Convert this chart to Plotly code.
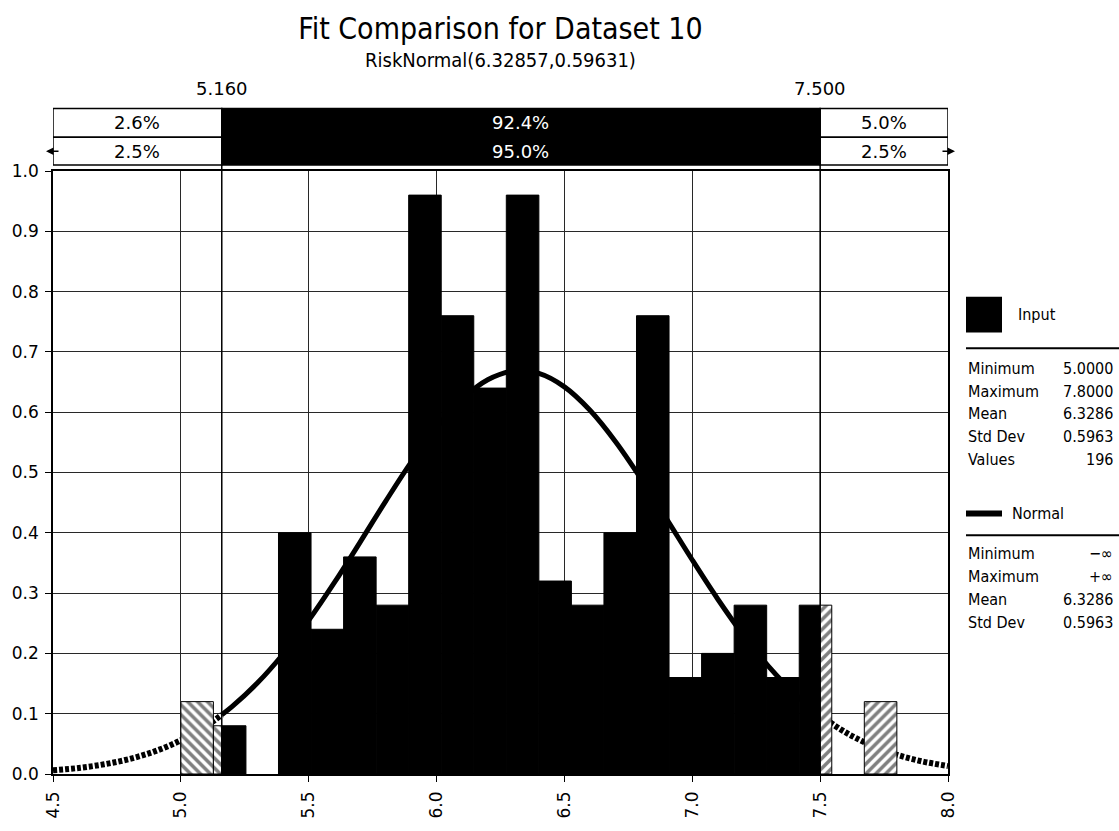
import plotly.graph_objects as go

# ---------------- data ----------------
bin_start = 5.0
bin_end = 7.8
bin_heights = [0.12, 0.08, 0.00, 0.40, 0.24, 0.36, 0.28, 0.96, 0.76, 0.64, 0.96,
               0.32, 0.28, 0.40, 0.76, 0.16, 0.20, 0.28, 0.16, 0.28, 0.00, 0.12]

curve_x = [4.5, 4.6, 4.7, 4.8, 4.9, 5.0, 5.1, 5.16, 5.2, 5.3, 5.4, 5.5, 5.6, 5.7,
           5.8, 5.9, 6.0, 6.1, 6.2, 6.3, 6.4, 6.5, 6.6, 6.7, 6.8, 6.9, 7.0, 7.1,
           7.2, 7.3, 7.4, 7.5, 7.6, 7.7, 7.8, 7.9, 8.0]
curve_y = [0.0061, 0.0100, 0.0161, 0.0250, 0.0379, 0.0559, 0.0801, 0.0981, 0.1116,
           0.1512, 0.1990, 0.2548, 0.3172, 0.3838, 0.4517, 0.5168, 0.5748, 0.6216,
           0.6537, 0.6683, 0.6643, 0.6420, 0.6032, 0.5511, 0.4895, 0.4227, 0.3549,
           0.2898, 0.2300, 0.1775, 0.1332, 0.0972, 0.0689, 0.0475, 0.0319, 0.0208,
           0.0132]

delimiters = [5.16, 7.5]
input_pct = ["2.6%", "92.4%", "5.0%"]
fit_pct = ["2.5%", "95.0%", "2.5%"]

title_text = "Fit Comparison for Dataset 10"
subtitle_text = "RiskNormal(6.32857,0.59631)"

input_stat_names = ["Minimum", "Maximum", "Mean", "Std Dev", "Values"]
input_stat_values = ["5.0000", "7.8000", "6.3286", "0.5963", "196"]
fit_stat_names = ["Minimum", "Maximum", "Mean", "Std Dev"]
fit_stat_values = ["\u2212\u221e", "+\u221e", "6.3286", "0.5963"]

x_range = [4.5, 8.0]
y_range = [0.0, 1.0]

# ---------------- layout geometry (pixels) ----------------
W, H = 1119, 831
L, R, T, B = 53, 948, 171, 780
FONT = "DejaVu Sans Condensed, DejaVu Sans, Verdana, sans-serif"
FONT_W = "DejaVu Sans, Verdana, sans-serif"


def px_x(px):
    return (px - L) / (R - L)


def px_y(py):
    return (B - py) / (B - T)


d_lo, d_hi = delimiters
n_bins = len(bin_heights)
bw = (bin_end - bin_start) / n_bins

solid = {"x": [], "y": [], "w": []}
hatch_l = {"x": [], "y": [], "w": []}
hatch_r = {"x": [], "y": [], "w": []}
for i, h in enumerate(bin_heights):
    if h <= 0:
        continue
    lo = bin_start + i * bw
    hi = lo + bw
    segs = [
        (lo, min(hi, d_lo), hatch_l),
        (max(lo, d_lo), min(hi, d_hi), solid),
        (max(lo, d_hi), hi, hatch_r),
    ]
    for a, b, tgt in segs:
        if b - a > 1e-9:
            tgt["x"].append((a + b) / 2)
            tgt["y"].append(h)
            tgt["w"].append(b - a)

fig = go.Figure()

# fitted curve (under the bars)
left_x = [x for x in curve_x if x <= d_lo]
left_y = [y for x, y in zip(curve_x, curve_y) if x <= d_lo]
mid_x = [x for x in curve_x if d_lo <= x <= d_hi]
mid_y = [y for x, y in zip(curve_x, curve_y) if d_lo <= x <= d_hi]
right_x = [x for x in curve_x if x >= d_hi]
right_y = [y for x, y in zip(curve_x, curve_y) if x >= d_hi]

for xs, ys, dash, wd in [(left_x, left_y, "4px,2px", 6), (mid_x, mid_y, "solid", 5),
                         (right_x, right_y, "4px,2px", 6)]:
    fig.add_trace(go.Scatter(x=xs, y=ys, mode="lines", line=dict(color="black", width=wd,
                             dash=dash, shape="spline"), showlegend=False,
                             hoverinfo="skip", xaxis="x", yaxis="y"))

# histogram bars (on overlaying axis so they sit above the curve)
fig.add_trace(go.Bar(x=solid["x"], y=solid["y"], width=solid["w"], xaxis="x", yaxis="y2",
                     marker=dict(color="black", line=dict(color="black", width=1)),
                     showlegend=False))
for d, shp in [(hatch_l, "\\"), (hatch_r, "/")]:
    fig.add_trace(go.Bar(x=d["x"], y=d["y"], width=d["w"], xaxis="x", yaxis="y2",
                         marker=dict(color="white", line=dict(color="black", width=1),
                                     pattern=dict(shape=shp, fgcolor="black", bgcolor="white",
                                                  size=7, solidity=0.5)),
                         showlegend=False))

# delimiter triangles
fig.add_trace(go.Scatter(x=delimiters, y=[px_y(103)] * 2, mode="markers",
                         marker=dict(symbol="triangle-down", size=13, color="black"),
                         cliponaxis=False, showlegend=False, hoverinfo="skip",
                         xaxis="x", yaxis="y"))

shapes = []
annotations = []

# delimiter bar boxes
row_tops = [108, 137]
row_bots = [137, 165]
edges = [x_range[0], d_lo, d_hi, x_range[1]]
for r, texts in enumerate([input_pct, fit_pct]):
    y0, y1 = px_y(row_bots[r]), px_y(row_tops[r])
    for k in range(3):
        mid = (k == 1)
        shapes.append(dict(type="rect", xref="x", yref="paper", x0=edges[k], x1=edges[k + 1],
                           y0=y0, y1=y1, fillcolor="black" if mid else "white",
                           line=dict(color="black", width=1.5), layer="above"))
        annotations.append(dict(xref="x", yref="paper", x=(edges[k] + edges[k + 1]) / 2,
                                y=(y0 + y1) / 2, text=texts[k], showarrow=False,
                                font=dict(family=FONT_W, size=18,
                                          color="white" if mid else "black"),
                                xanchor="center", yanchor="middle"))

# delimiter vertical lines and labels
for d in delimiters:
    shapes.append(dict(type="line", xref="x", yref="paper", x0=d, x1=d, y0=0, y1=px_y(108),
                       line=dict(color="black", width=1.5), layer="above"))
    annotations.append(dict(xref="x", yref="paper", x=d, y=px_y(88), text=f"{d:.3f}",
                            showarrow=False, font=dict(family=FONT_W, size=18, color="black"),
                            xanchor="center", yanchor="middle"))

# arrows at ends of second row
annotations.append(dict(xref="paper", yref="paper", x=px_x(46), y=px_y(151), ax=14, ay=0,
                        text="", showarrow=True, arrowhead=2, arrowsize=1, arrowwidth=1.5,
                        arrowcolor="black"))
annotations.append(dict(xref="paper", yref="paper", x=px_x(955), y=px_y(151), ax=-14, ay=0,
                        text="", showarrow=True, arrowhead=2, arrowsize=1, arrowwidth=1.5,
                        arrowcolor="black"))

# subtitle
annotations.append(dict(xref="paper", yref="paper", x=0.5, y=px_y(59), text=subtitle_text,
                        showarrow=False, font=dict(family=FONT, size=20, color="black"),
                        xanchor="center", yanchor="middle"))

# ---------------- side legend ----------------
LX0, LX1 = 966, 1115
LEG = 16
ROW = 23.2
shapes.append(dict(type="rect", xref="paper", yref="paper", x0=px_x(966), x1=px_x(1002),
                   y0=px_y(334), y1=px_y(298), fillcolor="black", line=dict(width=0)))
annotations.append(dict(xref="paper", yref="paper", x=px_x(1016), y=px_y(316), text="Input",
                        showarrow=False, xanchor="left", yanchor="middle",
                        font=dict(family=FONT, size=LEG, color="black")))
shapes.append(dict(type="line", xref="paper", yref="paper", x0=px_x(LX0), x1=px_x(1119),
                   y0=px_y(350), y1=px_y(350), line=dict(color="black", width=2)))
for j, (nm, vl) in enumerate(zip(input_stat_names, input_stat_values)):
    yy = px_y(370 + ROW * j)
    annotations.append(dict(xref="paper", yref="paper", x=px_x(LX0), y=yy, text=nm,
                            showarrow=False, xanchor="left", yanchor="middle",
                            font=dict(family=FONT, size=LEG, color="black")))
    annotations.append(dict(xref="paper", yref="paper", x=px_x(LX1), y=yy, text=vl,
                            showarrow=False, xanchor="right", yanchor="middle",
                            font=dict(family=FONT, size=LEG, color="black")))

shapes.append(dict(type="line", xref="paper", yref="paper", x0=px_x(966), x1=px_x(1002),
                   y0=px_y(517), y1=px_y(517), line=dict(color="black", width=6)))
annotations.append(dict(xref="paper", yref="paper", x=px_x(1010), y=px_y(517), text="Normal",
                        showarrow=False, xanchor="left", yanchor="middle",
                        font=dict(family=FONT, size=LEG, color="black")))
shapes.append(dict(type="line", xref="paper", yref="paper", x0=px_x(LX0), x1=px_x(1119),
                   y0=px_y(539), y1=px_y(539), line=dict(color="black", width=2)))
for j, (nm, vl) in enumerate(zip(fit_stat_names, fit_stat_values)):
    yy = px_y(557 + ROW * j)
    annotations.append(dict(xref="paper", yref="paper", x=px_x(LX0), y=yy, text=nm,
                            showarrow=False, xanchor="left", yanchor="middle",
                            font=dict(family=FONT, size=LEG, color="black")))
    annotations.append(dict(xref="paper", yref="paper", x=px_x(LX1), y=yy, text=vl,
                            showarrow=False, xanchor="right", yanchor="middle",
                            font=dict(family=FONT, size=LEG, color="black")))

axis_common = dict(showgrid=True, gridcolor="rgb(40,40,40)", gridwidth=1, zeroline=False,
                   showline=True, linecolor="black", linewidth=1.5, mirror=True,
                   ticks="outside", ticklen=6, tickcolor="black", ticklabelstandoff=3,
                   tickfont=dict(family=FONT_W, size=17, color="black"))

fig.update_layout(
    width=W, height=H, autosize=False,
    margin=dict(l=L, r=W - R, t=T, b=H - B, pad=0),
    paper_bgcolor="white", plot_bgcolor="white",
    barmode="overlay",
    title=dict(text=title_text, x=0.5, xref="paper", xanchor="center",
               y=1 - 28 / H, yref="container", yanchor="middle",
               font=dict(family=FONT, size=30, color="black")),
    xaxis=dict(range=x_range, dtick=0.5, tick0=4.5, tickformat=".1f", tickangle=-90,
               **axis_common),
    yaxis=dict(range=y_range, dtick=0.1, tick0=0, tickformat=".1f", **axis_common),
    yaxis2=dict(range=y_range, overlaying="y", visible=False, showgrid=False),
    shapes=shapes,
    annotations=annotations,
    showlegend=False,
)

fig.write_html("out.html")
